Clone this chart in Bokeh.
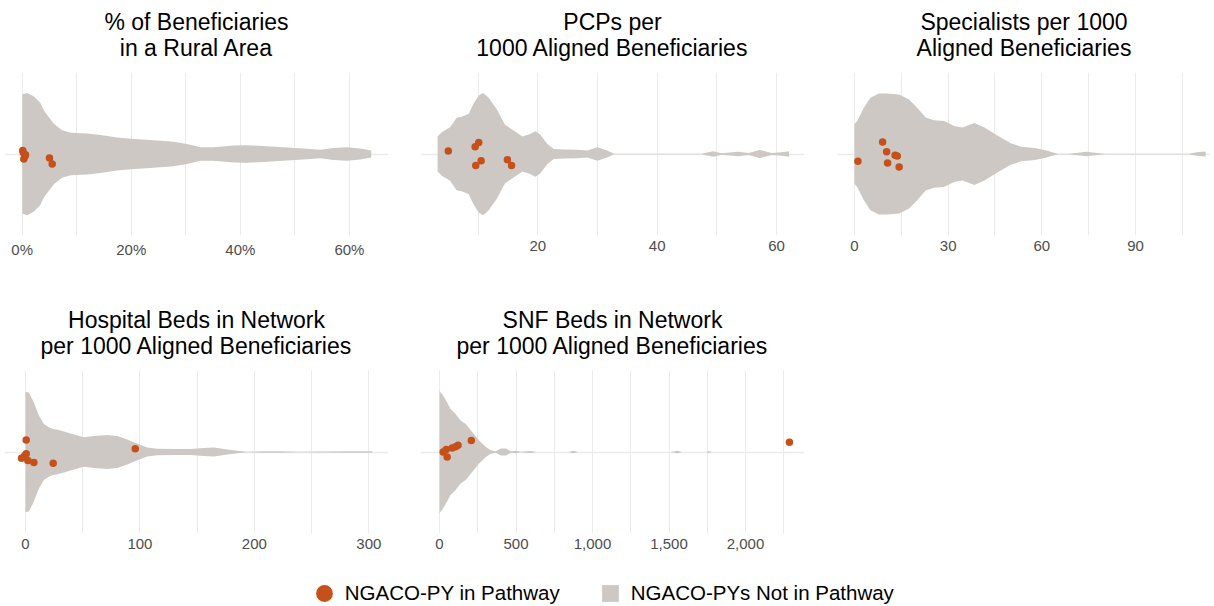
from bokeh.plotting import figure
from bokeh.layouts import column, row
from bokeh.models import (FixedTicker, Range1d, Title, Legend, LegendItem,
                          NumeralTickFormatter, Spacer)
from bokeh.embed import file_html
from bokeh.resources import INLINE

FONT = "Liberation Sans"
VIOLIN = "#CDC8C4"
POINT = "#C5501A"
GRID = "#EBEBEB"

# ---------------- data ----------------
# Panel 1: % of beneficiaries in a rural area (violin half-width profile)
rural_x = [0.0, 0.009, 0.021, 0.033, 0.040, 0.049, 0.058, 0.073, 0.089, 0.119, 0.144,
           0.174, 0.205, 0.235, 0.278, 0.302, 0.327, 0.351, 0.388, 0.412, 0.449, 0.486,
           0.522, 0.547, 0.571, 0.595, 0.620, 0.640]
rural_w = [0.438, 0.450, 0.426, 0.378, 0.318, 0.270, 0.223, 0.175, 0.156, 0.151, 0.139,
           0.122, 0.110, 0.103, 0.091, 0.074, 0.050, 0.050, 0.062, 0.065, 0.057, 0.048,
           0.038, 0.031, 0.045, 0.050, 0.041, 0.026]
rural_pts = [0.001, 0.006, 0.003, 0.005, 0.002, 0.050, 0.055]
rural_jit = [0.026, -0.005, -0.036, -0.017, 0.010, -0.029, -0.074]

# Panel 2: PCPs per 1000 aligned beneficiaries
pcp_x = [3.2, 3.9, 5.3, 6.4, 7.2, 8.4, 9.2, 10.1, 10.8, 11.7, 13.1, 14.5, 16.0, 17.4,
         18.5, 19.6, 20.4, 21.6, 22.7, 24.4, 26.6, 28.3, 30.0, 31.4, 32.8, 47.4, 49.4,
         50.8, 53.6, 55.3, 57.2, 59.2, 60.9, 62.1]
pcp_w = [0.128, 0.160, 0.197, 0.266, 0.275, 0.295, 0.369, 0.430, 0.450, 0.418, 0.332,
         0.216, 0.172, 0.128, 0.143, 0.167, 0.143, 0.074, 0.037, 0.034, 0.032, 0.025,
         0.049, 0.030, 0.002, 0.002, 0.020, 0.005, 0.017, 0.007, 0.030, 0.007, 0.012, 0.020]
pcp_pts = [5.0, 9.5, 10.1, 10.5, 9.6, 14.9, 15.6]
pcp_jit = [0.022, 0.054, 0.084, -0.049, -0.084, -0.042, -0.084]

# Panel 3: Specialists per 1000 aligned beneficiaries
spec_x = [0.0, 0.86, 3.0, 5.1, 7.8, 10.5, 14.3, 17.5, 20.1, 22.8, 25.5, 28.7, 31.9, 34.6,
          38.4, 41.6, 45.9, 50.2, 53.4, 57.7, 60.9, 65.1, 68.4, 71.6, 74.3, 76.9, 80.2,
          107.0, 110.2, 112.5]
spec_w = [0.219, 0.243, 0.341, 0.414, 0.445, 0.445, 0.438, 0.401, 0.341, 0.268, 0.248,
          0.243, 0.207, 0.195, 0.229, 0.195, 0.134, 0.078, 0.054, 0.044, 0.029, 0.002,
          0.002, 0.010, 0.017, 0.010, 0.002, 0.002, 0.015, 0.019]
spec_pts = [1.1, 9.0, 10.3, 10.6, 13.0, 13.7, 14.3]
spec_jit = [-0.054, 0.088, 0.017, -0.066, -0.010, -0.015, -0.095]

# Panel 4: Hospital beds in network per 1000 aligned beneficiaries
hosp_x = [0.0, 2.9, 7.3, 11.7, 16.0, 21.9, 30.6, 42.3, 51.0, 59.8, 71.4, 80.2, 88.9, 97.7,
          106.4, 115.2, 129.7, 144.3, 156.0, 164.7, 176.4, 185.1, 193.9, 208.5, 223.0,
          237.3, 261.0, 281.0, 303.0]
hosp_w = [0.443, 0.438, 0.365, 0.268, 0.207, 0.175, 0.158, 0.129, 0.109, 0.117, 0.126,
          0.117, 0.092, 0.061, 0.034, 0.024, 0.022, 0.022, 0.029, 0.034, 0.019, 0.010,
          0.002, 0.005, 0.005, 0.002, 0.003, 0.005, 0.005]
hosp_pts = [0.6, 0.6, -0.9, -3.5, 2.0, 7.3, 24.2, 95.9]
hosp_jit = [0.088, -0.012, -0.029, -0.046, -0.063, -0.078, -0.083, 0.024]

# Panel 5: SNF beds in network per 1000 aligned beneficiaries
snf_x = [0, 17.5, 50, 72, 105, 138, 171, 215, 259, 303, 336, 368, 401, 434, 467, 500, 533,
         566, 599, 632, 840, 851, 873, 906, 1509, 1531, 1553, 1586, 1743, 1761, 1779]
snf_w = [0.450, 0.426, 0.365, 0.316, 0.280, 0.231, 0.207, 0.146, 0.085, 0.036, 0.012,
         0.005, 0.026, 0.026, 0.005, 0.010, 0.002, 0.005, 0.007, 0.0, 0.0, 0.002, 0.010,
         0.0, 0.0, 0.003, 0.010, 0.0, 0.0, 0.007, 0.0]
snf_pts = [24, 44, 50, 83, 105, 121, 208, 2287]
snf_jit = [0.0, 0.019, -0.036, 0.029, 0.039, 0.049, 0.085, 0.071]

titles = [
    ("% of Beneficiaries", "in a Rural Area"),
    ("PCPs per", "1000 Aligned Beneficiaries"),
    ("Specialists per 1000", "Aligned Beneficiaries"),
    ("Hospital Beds in Network", "per 1000 Aligned Beneficiaries"),
    ("SNF Beds in Network", "per 1000 Aligned Beneficiaries"),
]
legend_labels = ["NGACO-PY in Pathway", "NGACO-PYs Not in Pathway"]


def panel(title, vx, vw, px, pj, xr, major, minor, fmt, fw, bl, br, bb):
    p = figure(frame_width=fw, frame_height=163, x_range=Range1d(*xr),
               y_range=Range1d(-0.6, 0.6), toolbar_location=None,
               output_backend="svg", y_axis_location=None,
               min_border_left=bl, min_border_right=br, min_border_top=72,
               min_border_bottom=bb)
    p.outline_line_color = None
    t = FixedTicker(ticks=major, minor_ticks=minor)
    p.xaxis.ticker = t
    p.xaxis.formatter = fmt
    p.xaxis.axis_line_color = None
    p.xaxis.major_tick_line_color = None
    p.xaxis.minor_tick_line_color = None
    p.xaxis.major_tick_out = 0
    p.xaxis.minor_tick_out = 0
    p.xaxis.major_tick_in = 0
    p.xaxis.minor_tick_in = 0
    p.xaxis.major_label_text_font = FONT
    p.xaxis.major_label_text_font_size = "15px"
    p.xaxis.major_label_text_color = "#4D4D4D"
    p.xaxis.major_label_standoff = 5
    p.xgrid.ticker = t
    p.xgrid.grid_line_color = GRID
    p.xgrid.minor_grid_line_color = GRID
    p.xgrid.grid_line_width = 1
    p.xgrid.minor_grid_line_width = 1
    p.ygrid.ticker = FixedTicker(ticks=[0])
    p.ygrid.grid_line_color = GRID
    p.ygrid.grid_line_width = 1.5
    # second title line sits next to the frame, first line above it
    p.add_layout(Title(text=title[1], align="center", text_font=FONT,
                       text_font_size="23px", text_font_style="normal",
                       text_color="black", standoff=23), "above")
    p.add_layout(Title(text=title[0], align="center", text_font=FONT,
                       text_font_size="23px", text_font_style="normal",
                       text_color="black", standoff=-27), "above")
    p.varea(x=vx, y1=[-w for w in vw], y2=vw, fill_color=VIOLIN)
    p.scatter(x=px, y=pj, size=7.5, fill_color=POINT, line_color=None)
    return p


pct = NumeralTickFormatter(format="0%")
num = NumeralTickFormatter(format="0,0")

p1 = panel(titles[0], rural_x, rural_w, rural_pts, rural_jit, (-0.03246, 0.6717),
           [0, 0.2, 0.4, 0.6], [0.1, 0.3, 0.5], pct, 384, 4, 16, 63)
p2 = panel(titles[1], pcp_x, pcp_w, pcp_pts, pcp_jit, (0.34, 64.69),
           [20, 40, 60], [10, 30, 50], num, 384, 16, 16, 63)
p3 = panel(titles[2], spec_x, spec_w, spec_pts, spec_jit, (-5.445, 114.03),
           [0, 30, 60, 90], [15, 45, 75, 105], num, 373, 17, 2, 63)
p4 = panel(titles[3], hosp_x, hosp_w, hosp_pts, hosp_jit, (-18.35, 317.2),
           [0, 100, 200, 300], [50, 150, 250], num, 384, 4, 16, 49)
p5 = panel(titles[4], snf_x, snf_w, snf_pts, snf_jit, (-124.2, 2385.6),
           [0, 500, 1000, 1500, 2000], [250, 750, 1250, 1750, 2250], num, 384, 16, 16, 49)

# legend strip
pl = figure(width=1212, height=22, toolbar_location=None, output_backend="svg",
            x_axis_location=None, y_axis_location=None, min_border=0,
            x_range=Range1d(0, 1), y_range=Range1d(0, 1))
pl.outline_line_color = None
pl.xgrid.visible = False
pl.ygrid.visible = False
r1 = pl.scatter(x=rural_pts, y=rural_jit, marker="circle", size=0,
                fill_color=POINT, line_color=None)
r2 = pl.scatter(x=rural_pts, y=rural_jit, marker="square", size=0,
                fill_color=VIOLIN, line_color=None)
leg = Legend(items=[LegendItem(label=legend_labels[0], renderers=[r1]),
                    LegendItem(label=legend_labels[1], renderers=[r2])],
             orientation="horizontal", location=(302.75, -10),
             glyph_width=42, glyph_height=42, label_standoff=0, spacing=29,
             padding=0, margin=0, border_line_color=None, background_fill_alpha=0,
             label_text_font=FONT, label_text_font_size="20.5px",
             label_text_color="black")
pl.add_layout(leg, "center")

layout = column(row(p1, p2, p3), row(p4, p5, Spacer(width=392, height=284)), pl)

open("out.html", "w").write(file_html(layout, INLINE))
